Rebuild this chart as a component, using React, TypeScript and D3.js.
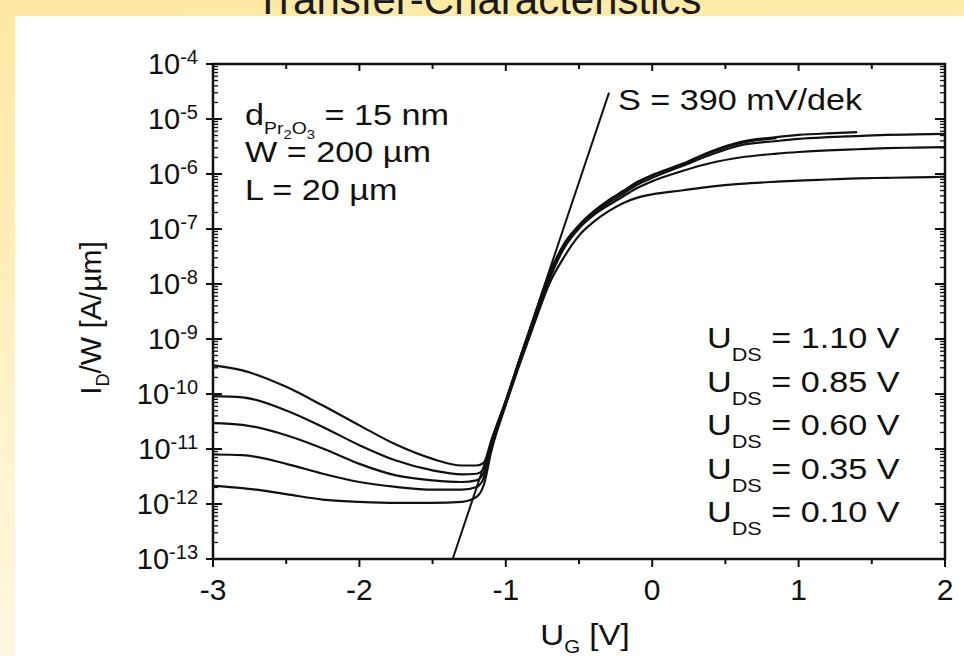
import * as d3 from 'd3'

// gate voltage grid [V]
const UG = [-3, -2.8, -2.5, -2.25, -2, -1.75, -1.5, -1.3, -1.2, -1.15, -1.1, -1, -0.9, -0.8, -0.7, -0.6, -0.5, -0.4, -0.3, -0.2, -0.1, 0, 0.2, 0.4, 0.6, 0.85, 1, 1.2, 1.4, 1.6, 1.8, 2]

// log10(I_D/W), one array per drain voltage
const UDS_110 = [-9.48, -9.57, -9.87, -10.21, -10.57, -10.92, -11.18, -11.3, -11.3, -11.25, -10.85, -10.12, -9.32, -8.55, -7.8, -7.26, -6.93, -6.68, -6.48, -6.31, -6.14, -6.02, -5.82, -5.59, -5.42, -5.33, -5.29, -5.26, -5.24, null, null, null]
const UDS_085 = [-10.04, -10.06, -10.3, -10.6, -10.93, -11.21, -11.39, -11.46, -11.45, -11.35, -10.88, -10.13, -9.33, -8.56, -7.82, -7.28, -6.94, -6.69, -6.49, -6.32, -6.15, -6.03, -5.83, -5.61, -5.44, -5.35, null, null, null, null, null, null]
const UDS_060 = [-10.53, -10.56, -10.75, -10.99, -11.27, -11.48, -11.57, -11.6, -11.57, -11.43, -10.92, -10.15, -9.35, -8.58, -7.85, -7.31, -6.97, -6.72, -6.53, -6.36, -6.19, -6.07, -5.86, -5.65, -5.48, -5.4, -5.36, -5.33, -5.31, -5.29, -5.28, -5.27]
const UDS_035 = [-11.1, -11.11, -11.27, -11.45, -11.6, -11.69, -11.74, -11.74, -11.69, -11.52, -10.96, -10.17, -9.38, -8.62, -7.9, -7.34, -6.99, -6.75, -6.57, -6.41, -6.25, -6.13, -5.95, -5.8, -5.7, -5.63, -5.6, -5.57, -5.55, -5.53, -5.52, -5.51]
const UDS_010 = [-11.67, -11.71, -11.82, -11.92, -11.96, -11.98, -11.98, -11.96, -11.87, -11.65, -11.05, -10.2, -9.42, -8.68, -7.98, -7.5, -7.12, -6.87, -6.68, -6.53, -6.43, -6.37, -6.3, -6.23, -6.18, -6.14, -6.12, -6.1, -6.08, -6.07, -6.06, -6.05]

const SERIES = [UDS_110, UDS_085, UDS_060, UDS_035, UDS_010]
const LEGEND = ['1.10', '0.85', '0.60', '0.35', '0.10']

// subthreshold slope line
const TANGENT_UG = [-1.363, -0.295]
const TANGENT_LOG = [-13, -4.52]

const X_TICKS = [-3, -2, -1, 0, 1, 2]
const X_MINOR = [-2.5, -1.5, -0.5, 0.5, 1.5]
const Y_DECADES = [-13, -12, -11, -10, -9, -8, -7, -6, -5, -4]

const FONT = 'Liberation Sans, Arial, Helvetica, sans-serif'
const STRETCH = 1.14 // annotation text in the figure is set a bit wide

export default function App() {
  const W = 964
  const H = 656
  const left = 213, right = 945, top = 64, bottom = 559

  const x = d3.scaleLinear().domain([-3, 2]).range([left, right])
  const y = d3.scaleLog().domain([1e-13, 1e-4]).range([bottom, top])

  const line = d3.line<[number, number | null]>()
    .defined(d => d[1] != null)
    .x(d => x(d[0]))
    .y(d => y(Math.pow(10, d[1] as number)))
    .curve(d3.curveMonotoneX)

  const minorY = y.ticks().filter(v => Math.abs(Math.log10(v) - Math.round(Math.log10(v))) > 1e-6)
  const wide = (tx: number, ty: number) => `translate(${tx},${ty}) scale(${STRETCH},1)`

  return (
    <svg width={W} height={H} style={{ position: 'absolute', left: 0, top: 0 }} fontFamily={FONT}>
      <defs>
        <linearGradient id="bgGrad" x1="0" y1="0" x2="0.15" y2="1">
          <stop offset="0" stopColor="#fde9a2" />
          <stop offset="1" stopColor="#fff8e3" />
        </linearGradient>
      </defs>
      <rect width={W} height={H} fill="url(#bgGrad)" />
      <rect x={15} y={16} width={W - 15} height={H - 16} fill="#fff" />

      <text x={255} y={14} fontSize={42} fill="#1a1a1a">Transfer-Characteristics</text>

      {/* frame */}
      <rect x={left} y={top} width={right - left} height={bottom - top} fill="none" stroke="#111" strokeWidth={2.5} />

      {/* bottom + top x ticks */}
      {X_TICKS.map(t => (
        <g key={'xt' + t} stroke="#111" strokeWidth={2}>
          <line x1={x(t)} x2={x(t)} y1={bottom} y2={bottom + 8} />
          <line x1={x(t)} x2={x(t)} y1={top} y2={top + 7} />
        </g>
      ))}
      {X_MINOR.map(t => (
        <g key={'xm' + t} stroke="#111" strokeWidth={2}>
          <line x1={x(t)} x2={x(t)} y1={bottom} y2={bottom + 5} />
          <line x1={x(t)} x2={x(t)} y1={top} y2={top + 5} />
        </g>
      ))}

      {/* y ticks, both sides */}
      {Y_DECADES.map(e => (
        <g key={'yt' + e} stroke="#111" strokeWidth={2}>
          <line x1={left - 7} x2={left + 9} y1={y(Math.pow(10, e))} y2={y(Math.pow(10, e))} />
          <line x1={right - 10} x2={right} y1={y(Math.pow(10, e))} y2={y(Math.pow(10, e))} />
        </g>
      ))}
      {minorY.map((v, i) => (
        <g key={'ym' + i} stroke="#111" strokeWidth={1.3}>
          <line x1={left} x2={left + 5} y1={y(v)} y2={y(v)} />
          <line x1={right - 5} x2={right} y1={y(v)} y2={y(v)} />
        </g>
      ))}

      {/* tick labels */}
      {X_TICKS.map(t => (
        <text key={'xl' + t} x={x(t)} y={600} textAnchor="middle" fontSize={30} fill="#111">{t}</text>
      ))}
      {Y_DECADES.map(e => (
        <text key={'yl' + e} x={198} y={y(Math.pow(10, e)) + 10} textAnchor="end" fontSize={29} fill="#111">
          10<tspan dy={-10} fontSize={20}>{e}</tspan>
        </text>
      ))}

      {/* axis titles */}
      <text transform={wide(585, 645)} textAnchor="middle" fontSize={29} fill="#111">
        U<tspan dy={8} fontSize={18}>G</tspan><tspan dy={-8}> [V]</tspan>
      </text>
      <text transform="translate(101,318) rotate(-90)" textAnchor="middle" fontSize={30} fill="#111">
        I<tspan dy={8} fontSize={18}>D</tspan><tspan dy={-8}>/W [A/µm]</tspan>
      </text>

      {/* curves */}
      {SERIES.map((s, i) => (
        <path key={'c' + i} d={line(UG.map((u, j) => [u, s[j]]) as [number, number | null][]) || ''}
          fill="none" stroke="#111" strokeWidth={2.2} />
      ))}
      <line x1={x(TANGENT_UG[0])} y1={y(Math.pow(10, TANGENT_LOG[0]))} x2={x(TANGENT_UG[1])} y2={y(Math.pow(10, TANGENT_LOG[1]))}
        stroke="#111" strokeWidth={2} />

      {/* annotations */}
      <g fontSize={30} fill="#111">
        <text transform={wide(245, 125)}>
          d<tspan dy={9} fontSize={17}>Pr</tspan><tspan dy={5} fontSize={13}>2</tspan><tspan dy={-5} fontSize={17}>O</tspan><tspan dy={5} fontSize={13}>3</tspan><tspan dy={-14}> = 15 nm</tspan>
        </text>
        <text transform={wide(245, 162)}>W = 200 µm</text>
        <text transform={wide(245, 200)}>L = 20 µm</text>
        <text transform={wide(618, 110)}>S = 390 mV/dek</text>
        {LEGEND.map((v, i) => (
          <text key={'lg' + v} transform={wide(707, 348 + i * 43.5)}>
            U<tspan dy={13} fontSize={19}>DS</tspan><tspan dy={-13}> = {v} V</tspan>
          </text>
        ))}
      </g>
    </svg>
  )
}
